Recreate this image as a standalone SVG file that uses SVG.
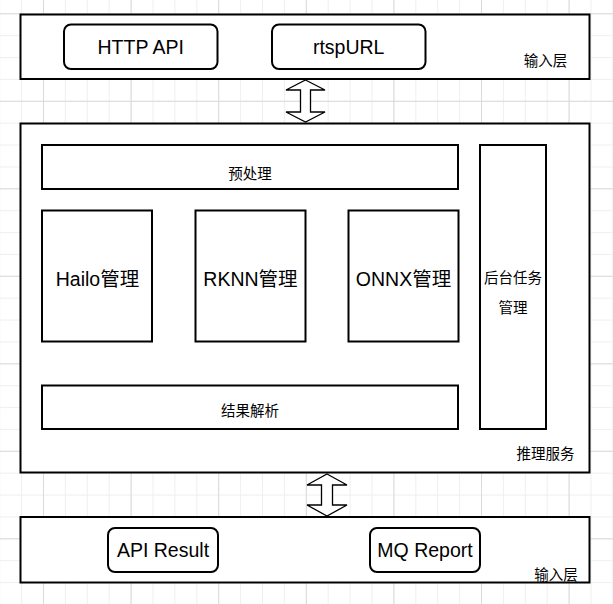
<svg xmlns="http://www.w3.org/2000/svg" width="613" height="604" viewBox="0 0 613 604">
  <defs>
    <pattern id="minor" patternUnits="userSpaceOnUse" x="43" y="13.3" width="21.9" height="21.875">
      <path d="M0.5 0 V21.875 M0 0.5 H21.9" fill="none" stroke="#efefef" stroke-width="1"/>
    </pattern>
    <pattern id="major" patternUnits="userSpaceOnUse" x="43" y="13.3" width="87.6" height="87.5">
      <path d="M0.5 0 V87.5 M0 0.5 H87.6" fill="none" stroke="#dadada" stroke-width="1"/>
    </pattern>
  </defs>
  <style>
    .box { fill: #ffffff; stroke: #000000; stroke-width: 2; }
    .rbox { fill: #ffffff; stroke: #000000; stroke-width: 2; }
    .lat { font-family: "Liberation Sans", Arial, "Noto Sans CJK SC", sans-serif; font-size: 19.5px; fill: #000; text-anchor: middle; dominant-baseline: central; }
    .cjk { font-family: "Noto Sans CJK SC", "Liberation Sans", sans-serif; font-size: 14.5px; fill: #000; text-anchor: middle; dominant-baseline: central; }
    .big { font-family: "Liberation Sans", Arial, "Noto Sans CJK SC", sans-serif; font-size: 19.5px; fill: #000; text-anchor: middle; dominant-baseline: central; }
    .arrow { fill: #ffffff; stroke: #000000; stroke-width: 1.3; stroke-linejoin: miter; }
  </style>
  <rect width="613" height="604" fill="#ffffff"/>
  <rect width="613" height="604" fill="url(#minor)"/>
  <rect width="613" height="604" fill="url(#major)"/>

  <g id="input-layer">
    <rect class="box" x="20.5" y="14.5" width="569" height="64.5"/>
    <text class="cjk" x="545.5" y="59">输入层</text>
  </g>
  <g id="http-api">
    <rect class="rbox" x="64" y="24.5" width="153.5" height="44.5" rx="7"/>
    <text class="lat" x="140.7" y="46.7">HTTP API</text>
  </g>
  <g id="rtsp-url">
    <rect class="rbox" x="272" y="24.5" width="153.5" height="44.5" rx="7"/>
    <text class="lat" x="348.7" y="46.7">rtspURL</text>
  </g>

  <g id="inference-service">
    <rect class="box" x="20.5" y="123.5" width="569" height="349"/>
    <text class="cjk" x="545.5" y="452.5">推理服务</text>
  </g>
  <g id="preprocess">
    <rect class="box" x="42" y="145" width="416" height="44"/>
    <text class="cjk" x="250" y="172">预处理</text>
  </g>
  <g id="hailo">
    <rect class="box" x="42" y="210.5" width="110" height="131"/>
    <text class="big" x="97.5" y="279.3">Hailo管理</text>
  </g>
  <g id="rknn">
    <rect class="box" x="195.5" y="210.5" width="110" height="131"/>
    <text class="big" x="250.5" y="279.3">RKNN管理</text>
  </g>
  <g id="onnx">
    <rect class="box" x="348.5" y="210.5" width="110" height="131"/>
    <text class="big" x="403.5" y="279.3">ONNX管理</text>
  </g>
  <g id="background-task">
    <rect class="box" x="480" y="145" width="66" height="284"/>
    <text class="cjk" x="513" y="276">后台任务</text>
    <text class="cjk" x="513" y="306.5">管理</text>
  </g>
  <g id="result-parse">
    <rect class="box" x="42" y="385.5" width="416" height="43.5"/>
    <text class="cjk" x="250" y="409">结果解析</text>
  </g>

  <g id="output-layer">
    <rect class="box" x="20.5" y="517" width="569" height="65.5"/>
    <text class="cjk" x="556" y="573">输入层</text>
  </g>
  <g id="api-result">
    <rect class="rbox" x="108" y="528" width="110" height="44" rx="7"/>
    <text class="lat" x="163" y="550">API Result</text>
  </g>
  <g id="mq-report">
    <rect class="rbox" x="370" y="528" width="110" height="44" rx="7"/>
    <text class="lat" x="425" y="550">MQ Report</text>
  </g>

  <g id="connectors">
    <polygon class="arrow" points="305.5,80 325,90 310.5,90 310.5,112 325,112 305.5,122 286,112 300.5,112 300.5,90 286,90"/>
    <polygon class="arrow" points="327,474 347,485 332.5,485 332.5,505 347,505 327,516 307,505 321.5,505 321.5,485 307,485"/>
  </g>
</svg>
